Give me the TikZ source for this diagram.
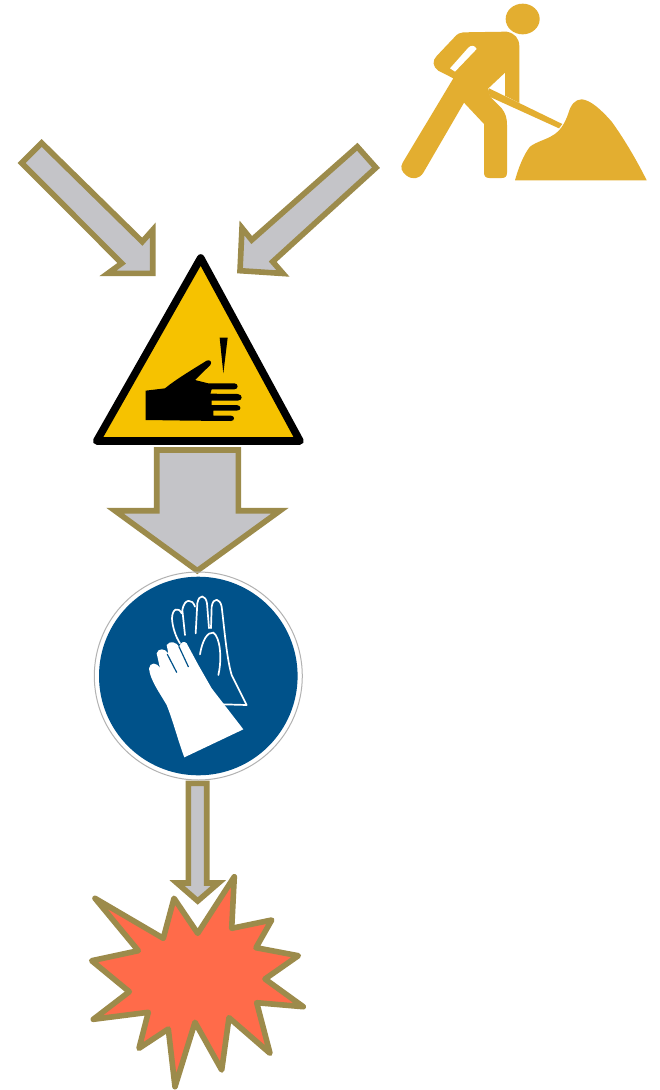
\documentclass[tikz,border=0pt]{standalone}
\definecolor{gold}{HTML}{9C8B4B}
\definecolor{blockgrey}{HTML}{C4C4C8}
\definecolor{burst}{HTML}{FF6B4A}
\definecolor{worker}{HTML}{E3AE30}
\definecolor{warnyellow}{HTML}{F6C200}
\definecolor{signblue}{HTML}{00528A}
\tikzset{
  blockarrow/.style={draw=gold,fill=blockgrey,line width=5.6pt,line join=miter,miter limit=10},
  burststar/.style={draw=gold,fill=burst,line width=5.6pt,line join=round},
  zoomed/.style={shift={(#1)},scale=1/3}
}
\begin{document}
\begin{tikzpicture}[x=1pt,y=-1pt]
\useasboundingbox (0,0) rectangle (659,1090);
\fill[white] (0,0) rectangle (659,1090);

% worker
\begin{scope}[zoomed={390,0}]
\fill[worker] (398,57) ellipse [x radius=51,y radius=46];
\fill[worker] (220,97) -- (350,95) .. controls (375,100) and (388,115) .. (388,140)
  -- (388,309) -- (345,287) -- (345,218) -- (295,265) -- (300,290) -- (335,325)
  .. controls (347,340) and (351,355) .. (351,375) -- (351,518)
  .. controls (351,530) and (345,534) .. (335,534) -- (298,534)
  .. controls (287,534) and (282,528) .. (282,518) -- (282,372) -- (222,308) -- (100,518)
  .. controls (88,537) and (68,540) .. (50,527) .. controls (34,515) and (30,502) .. (38,488)
  -- (190,235) -- (145,212) .. controls (128,200) and (126,182) .. (140,168)
  -- (195,110) .. controls (203,101) and (210,98) .. (220,97) -- cycle;
\fill[worker] (297,265) -- (517,372) -- (507,385) -- (298,290) -- cycle;
\fill[white] (180,205) -- (235,143) .. controls (242,135) and (255,135) .. (260,147)
  -- (195,215) -- cycle;
\fill[worker] (375,541) .. controls (385,505) and (400,465) .. (420,440)
  .. controls (440,425) and (465,420) .. (485,408) .. controls (510,395) and (525,370) .. (535,340)
  .. controls (542,315) and (555,298) .. (575,298) .. controls (600,300) and (630,325) .. (665,365)
  .. controls (705,420) and (745,490) .. (770,541) -- cycle;
\end{scope}

% block arrows
\draw[blockarrow] (41.7,143) -- (21.7,163) -- (121.7,263.3) -- (108,273.3) -- (152.7,273.3)
  -- (152.7,230) -- (142.3,241.7) -- cycle;
\draw[blockarrow] (357.3,146.7) -- (376,167.7) -- (272.7,261.7) -- (283,273.5) -- (240,270.7)
  -- (242,228) -- (251.7,240) -- cycle;
\draw[blockarrow] (156.7,450) -- (238.3,450) -- (238.3,510.7) -- (280,510.7) -- (197.3,570.7)
  -- (115,510.7) -- (156.7,510.7) -- cycle;
\draw[blockarrow] (188.3,783.3) -- (206.7,783.3) -- (206.7,883) -- (218.5,883) -- (197.7,901)
  -- (177,883) -- (188.3,883) -- cycle;

% warning sign
\draw[black,fill=warnyellow,line width=7.6pt,line join=round] (200.7,258) -- (300,441) -- (96.7,441) -- cycle;
\begin{scope}[zoomed={85,245}]
\fill[black] (182,437) -- (240,430) .. controls (270,405) and (320,375) .. (365,347)
  .. controls (375,342) and (382,352) .. (376,360) -- (330,405) -- (370,415) -- (448,415)
  .. controls (461,415) and (461,433) .. (448,433) -- (380,433) -- (376,446) -- (458,447)
  .. controls (474,448) and (474,467) .. (458,467) -- (380,467) -- (380,480) -- (455,480)
  .. controls (470,481) and (470,497) .. (455,497) -- (385,497) -- (385,512) -- (438,512)
  .. controls (450,512) and (450,528) .. (438,528) -- (320,527) -- (182,525) -- cycle;
\fill[black] (404,278) -- (428,278) -- (415,385) -- cycle;
\end{scope}

% mandatory sign
\draw[black!30,line width=1pt] (198.3,676) circle [radius=104];
\fill[signblue] (198.3,676) circle [radius=99.3];
\begin{scope}[zoomed={85,565}]
\draw[white,line width=1.7pt,line join=round,line cap=round]
  (415,418) -- (485,420) -- (440,330) .. controls (425,280) and (418,190) .. (410,125)
  .. controls (405,100) and (385,95) .. (380,125) -- (378,190)
  (372,190) -- (366,115) .. controls (362,90) and (342,85) .. (337,115) -- (332,205)
  (330,125) .. controls (322,100) and (298,100) .. (292,135) -- (300,210)
  (290,145) .. controls (280,125) and (262,130) .. (261,160) .. controls (262,185) and (272,215) .. (285,235);
\draw[white,line width=1.7pt,line cap=round]
  (345,268) .. controls (352,225) and (368,200) .. (385,203) .. controls (405,215) and (412,280) .. (400,330);
\fill[white] (298,577) -- (475,493) -- (380,370) -- (340,300) -- (305,235)
  .. controls (297,226) and (288,232) .. (282,245) .. controls (275,232) and (255,225) .. (245,240)
  -- (250,265) .. controls (240,250) and (220,248) .. (215,265) -- (225,310)
  .. controls (215,290) and (195,292) .. (192,310) .. controls (195,345) and (225,385) .. (245,420)
  .. controls (265,470) and (280,530) .. (298,577) -- cycle;
\draw[signblue,line width=1.2pt,line cap=round] (275,322) -- (247,268) (310,305) -- (282,245);
\end{scope}

% burst
\draw[burststar] (234.3,876.7) -- (231.7,928.3) -- (271.7,920) -- (256,947.7) -- (298.3,955.7)
  -- (265,979) -- (303.3,1006.7) -- (256.7,1002.7) -- (270,1053.3) -- (229,1017.7)
  -- (221.7,1070) -- (195,1022.3) -- (175,1086.7) -- (168.3,1029) -- (139,1048.3)
  -- (148.3,1012.3) -- (93.3,1019.3) -- (129.3,991.7) -- (91.7,960.7) -- (138.3,950.7)
  -- (95,898.3) -- (163.3,938.3) -- (174,898.3) -- (197.7,933.3) -- cycle;
\end{tikzpicture}
\end{document}
